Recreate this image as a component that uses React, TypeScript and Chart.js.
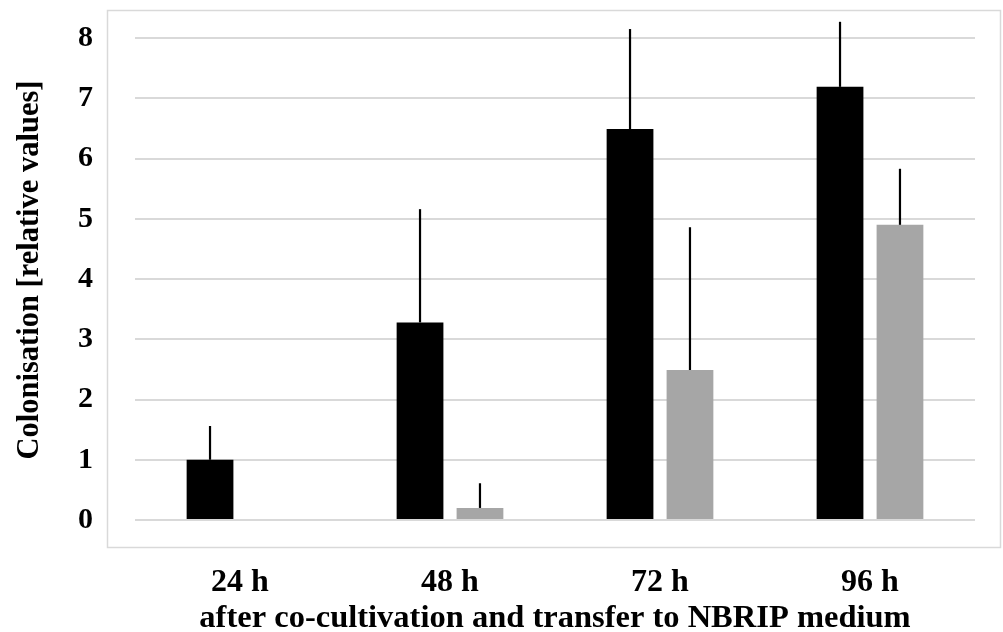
import React, { useEffect, useRef } from "react";
import { Chart, registerables } from "chart.js";

Chart.register(...registerables);

const categories = ["24 h", "48 h", "72 h", "96 h"];
const blackValues = [1.0, 3.28, 6.49, 7.19];
const blackErrors = [0.56, 1.88, 1.66, 1.08];
const grayValues = [0, 0.2, 2.49, 4.9];
const grayErrors = [0, 0.41, 2.37, 0.93];
const yTicks = [0, 1, 2, 3, 4, 5, 6, 7, 8];

const FONT = "'Liberation Serif', 'Times New Roman', serif";

const errorBarPlugin = {
  id: "errorBars",
  afterDatasetsDraw(chart: any) {
    const ctx = chart.ctx;
    const yScale = chart.scales.y;
    chart.data.datasets.forEach((ds: any, di: number) => {
      const meta = chart.getDatasetMeta(di);
      const errs: number[] = ds.errors || [];
      meta.data.forEach((bar: any, i: number) => {
        const v = ds.data[i];
        const e = errs[i] || 0;
        if (!v || !e) return;
        const yTop = yScale.getPixelForValue(v + e);
        const yBase = yScale.getPixelForValue(v);
        ctx.save();
        ctx.strokeStyle = "#000000";
        ctx.lineWidth = 2.2;
        ctx.beginPath();
        ctx.moveTo(bar.x, yBase);
        ctx.lineTo(bar.x, yTop);
        ctx.stroke();
        ctx.restore();
      });
    });
  },
};

const framePlugin = {
  id: "frame",
  beforeDraw(chart: any) {
    const ctx = chart.ctx;
    ctx.save();
    ctx.strokeStyle = "#d9d9d9";
    ctx.lineWidth = 1.5;
    ctx.strokeRect(107.5, 10.5, 893, 537);
    ctx.restore();
  },
};

export default function App() {
  const ref = useRef<HTMLCanvasElement | null>(null);

  useEffect(() => {
    if (!ref.current) return;
    const chart = new Chart(ref.current, {
      type: "bar",
      data: {
        labels: categories,
        datasets: [
          {
            label: "black",
            data: blackValues,
            errors: blackErrors,
            backgroundColor: "#000000",
            categoryPercentage: 0.571,
            barPercentage: 0.78,
          } as any,
          {
            label: "gray",
            data: grayValues,
            errors: grayErrors,
            backgroundColor: "#a6a6a6",
            categoryPercentage: 0.571,
            barPercentage: 0.78,
          } as any,
        ],
      },
      options: {
        animation: false,
        responsive: false,
        maintainAspectRatio: false,
        layout: { padding: { top: 20, right: 28, left: 0, bottom: 0 } },
        plugins: {
          legend: { display: false },
          tooltip: { enabled: false },
        },
        scales: {
          x: {
            grid: { display: false, drawTicks: false },
            border: { display: false },
            ticks: {
              color: "#000000",
              font: { family: FONT, size: 32, weight: "bold" },
              padding: 44,
            },
            title: {
              display: true,
              text: "after co-cultivation and transfer to NBRIP medium",
              color: "#000000",
              font: { family: FONT, size: 32.5, weight: "bold", lineHeight: 0.8 },
              padding: { top: 0, bottom: 0 },
            },
            afterFit(scale: any) {
              scale.height = 112;
            },
          },
          y: {
            min: 0,
            max: 8.3,
            grid: { color: "#d9d9d9", lineWidth: 2, drawTicks: false },
            border: { display: false },
            afterBuildTicks(scale: any) {
              scale.ticks = yTicks.map((v) => ({ value: v }));
            },
            ticks: {
              color: "#000000",
              font: { family: FONT, size: 30, weight: "bold" },
              padding: 42,
            },
            title: {
              display: true,
              text: "Colonisation [relative values]",
              color: "#000000",
              font: { family: FONT, size: 30.5, weight: "bold", lineHeight: 1.0 },
              padding: { top: 15, bottom: 0 },
            },
            afterFit(scale: any) {
              scale.width = 135;
              scale.paddingTop = 0;
              scale.paddingBottom = 0;
            },
          },
        },
      },
      plugins: [framePlugin, errorBarPlugin],
    });
    return () => chart.destroy();
  }, []);

  return (
    <div style={{ position: "absolute", left: 0, top: 0, width: 1003, height: 632, background: "#ffffff" }}>
      <canvas ref={ref} width={1003} height={632} style={{ width: 1003, height: 632 }} />
    </div>
  );
}
